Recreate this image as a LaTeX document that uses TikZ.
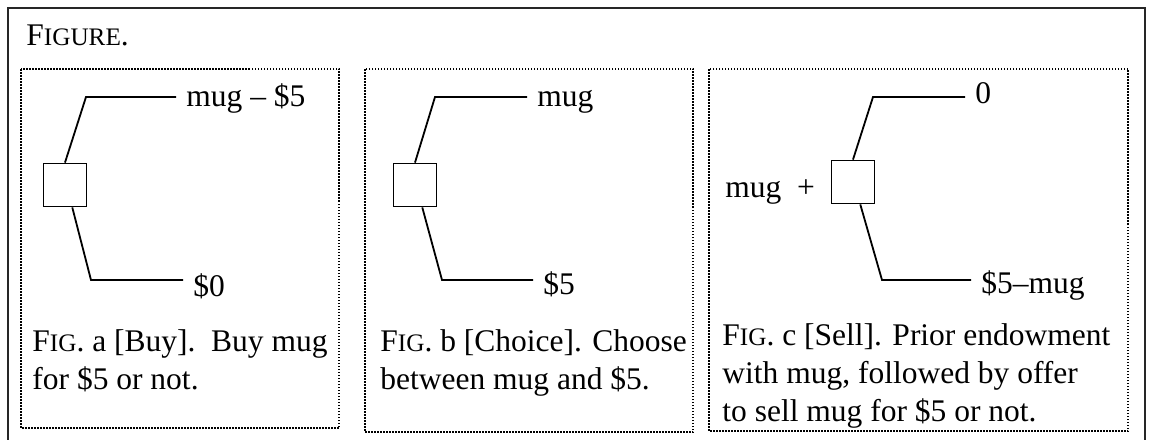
\documentclass[tikz,border=0pt]{standalone}
\usepackage{fontspec}
\setmainfont{Liberation Serif}
\usetikzlibrary{positioning}
\newcommand{\smcap}[1]{{\fontsize{12.6}{19}\selectfont #1}}

\begin{document}
\begin{tikzpicture}[x=0.5pt, y=-0.5pt]
	\tikzset{
		choice/.style={%
		     draw,
		     shape=rectangle,
		     line width=0.9pt,
		     inner sep=0pt,
		     minimum size=21.5pt},
		payoff/.style={%
		     anchor=base west,
		     inner xsep=5pt,
		     inner ysep=0pt},
		caption/.style={%
		     anchor=base west,
		     align=left,
		     inner sep=0pt}
	}

	\tikzstyle{branch_style} = [draw=black, line width=0.9pt]
	\tikzstyle{panel_style} = [draw=black, line width=0.6pt, dash pattern=on 0.75pt off 0.75pt]
	\tikzstyle{frame_style} = [draw=black!85, line width=1.1pt]

	\useasboundingbox (0,0) rectangle (1156,439);
	\fontsize{15.75}{19}\selectfont

	% outer frame, open at the bottom
	\draw[frame_style] (8,445) -- (8,8) -- (1145,8) -- (1145,445);
	\node[anchor=base west, inner sep=0pt] (title) at (26,45) {F\smcap{IGURE}.};

	% the three panels
	\draw[panel_style] (21,69) rectangle (339,428);
	\draw[panel_style] (365,69) rectangle (693,432);
	\draw[panel_style] (709,69) rectangle (1128,431);

	% fig a
	\node[choice] (sqa) at (65,185) {};
	\coordinate (ua) at (86,97);
	\coordinate (la) at (91,280);
	\node[payoff] (a1) at (176,106) {mug – \$5};
	\node[payoff] (a2) at (183,296) {\$0};
	\draw[branch_style] (sqa.north) -- (ua) -- (ua -| a1.west);
	\draw[branch_style] (sqa.-72) -- (la) -- (la -| a2.west);
	% base is the last line
	\node[caption] (capa) at (32,389) {F\smcap{IG}. a [Buy].\ \ Buy mug\\for \$5 or not.};

	% fig b
	\node[choice] (sqb) at (415,185) {};
	\coordinate (ub) at (435,97);
	\coordinate (lb) at (442,280);
	\node[payoff] (b1) at (527,106) {mug};
	\node[payoff] (b2) at (533,294) {\$5};
	\draw[branch_style] (sqb.north) -- (ub) -- (ub -| b1.west);
	\draw[branch_style] (sqb.-72) -- (lb) -- (lb -| b2.west);
	\node[caption] (capb) at (380,389) {F\smcap{IG}. b [Choice]. Choose\\between mug and \$5.};

	% fig c
	\node[choice] (sqc) at (853,182) {};
	\node[anchor=base west, inner sep=0pt] (endow) at (725,197) {mug\ \ +};
	\coordinate (uc) at (873,97);
	\coordinate (lc) at (882,280);
	\node[payoff] (c1) at (965,103) {0};
	\node[payoff] (c2) at (971,293) {\$5–mug};
	\draw[branch_style] (sqc.north) -- (uc) -- (uc -| c1.west);
	\draw[branch_style] (sqc.-72) -- (lc) -- (lc -| c2.west);
	\node[caption] (capc) at (722,421) {F\smcap{IG}. c [Sell]. Prior endowment\\with mug, followed by offer\\to sell mug for \$5 or not.};

\end{tikzpicture}
\end{document}
